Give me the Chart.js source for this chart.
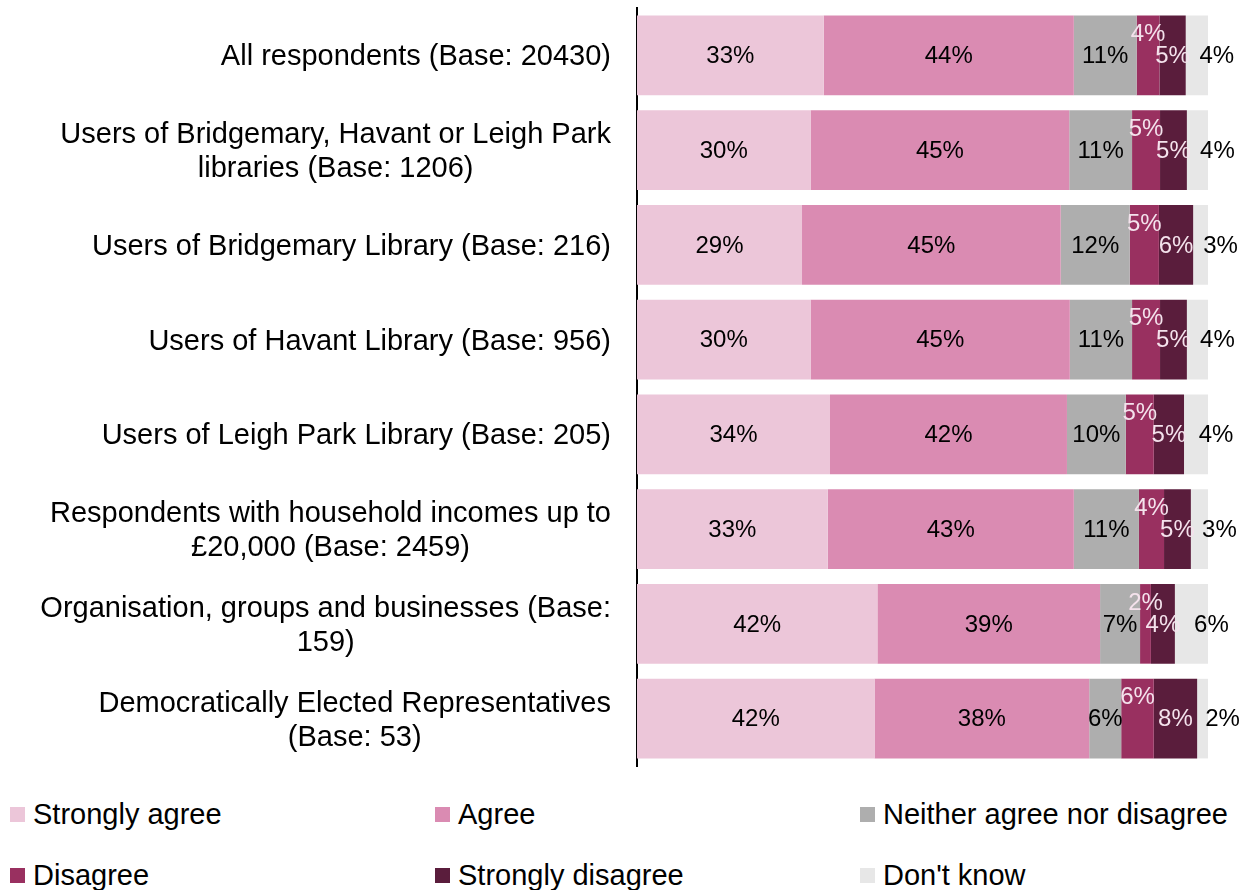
<!DOCTYPE html>
<html>
<head>
<meta charset="utf-8">
<script src="https://cdn.jsdelivr.net/npm/chart.js"></script>
<style>
body { margin: 0; background: #fff; font-family: "Liberation Sans", Arial, sans-serif; }
#wrap { position: relative; width: 1257px; height: 890px; }
#legend { position: absolute; left: 10px; top: 796px; display: grid; grid-template-columns: 425px 425px 400px; row-gap: 25px; }
.item { display: flex; align-items: center; height: 36px; font-size: 29px; color: #000; white-space: nowrap; }
.box { width: 15px; height: 15px; margin-right: 8px; }
</style>
</head>
<body>
<div id="wrap">
  <canvas id="bar-chart" width="1257" height="775"></canvas>
  <div id="legend"></div>
</div>
<script>
/**
 * datos del grafico (porcentajes por grupo)
 */
const categorias = [
    "All respondents (Base: 20430)",
    ["Users of Bridgemary, Havant or Leigh Park", "libraries (Base: 1206)"],
    "Users of Bridgemary Library (Base: 216)",
    "Users of Havant Library (Base: 956)",
    "Users of Leigh Park Library (Base: 205)",
    ["Respondents with household incomes up to", "£20,000 (Base: 2459)"],
    ["Organisation, groups and businesses (Base:", "159)"],
    ["Democratically Elected Representatives", "(Base: 53)"],
];

const series = ["Strongly agree", "Agree", "Neither agree nor disagree", "Disagree", "Strongly disagree", "Don't know"];

const stronglyAgree    = [32.7, 30.4, 28.9, 30.4, 33.8, 33.4, 42.1, 41.6];
const agree            = [43.8, 45.3, 45.3, 45.4, 41.5, 43.1, 39.0, 37.6];
const neither          = [11.0, 11.0, 12.1, 10.9, 10.3, 11.4,  7.0,  5.6];
const disagree         = [ 4.0,  4.9,  5.1,  4.9,  4.9,  4.4,  1.9,  5.7];
const stronglyDisagree = [ 4.6,  4.7,  6.0,  4.7,  5.3,  4.7,  4.2,  7.6];
const dontKnow         = [ 3.9,  3.7,  2.6,  3.7,  4.2,  3.0,  5.8,  1.9];

// estilos por serie
const colores = ["#ecc6d9", "#da8bb2", "#aeaeae", "#993060", "#5a1d3c", "#e7e7e7"];
const colorEtiqueta = ["#000", "#000", "#000", "#f4e2ec", "#f4e2ec", "#000"];
const desplazaX = [0, 0, 0, 0, 0, 20];
const desplazaY = [0, 0, 0, -22, 0, 0];

const valores = [stronglyAgree, agree, neither, disagree, stronglyDisagree, dontKnow];

const fuente = "'Liberation Sans', Arial, sans-serif";

// etiquetas de porcentaje sobre cada barra
const etiquetasBarras = {
    id: "etiquetasBarras",
    afterDatasetsDraw(chart) {
        const ctx = chart.ctx;
        ctx.save();
        ctx.font = "24px " + fuente;
        ctx.textAlign = "center";
        ctx.textBaseline = "middle";
        chart.data.datasets.forEach((ds, i) => {
            const meta = chart.getDatasetMeta(i);
            meta.data.forEach((bar, j) => {
                const x = (bar.x + bar.base) / 2 + desplazaX[i];
                const y = bar.y + 1 + desplazaY[i];
                ctx.fillStyle = colorEtiqueta[i];
                ctx.fillText(Math.round(ds.data[j]) + "%", x, y);
            });
        });
        ctx.restore();
    },
};

// etiquetas del eje y (lineas centradas, bloque alineado a la derecha)
const etiquetasEje = {
    id: "etiquetasEje",
    afterDraw(chart) {
        const ctx = chart.ctx;
        const escala = chart.scales.y;
        ctx.save();
        ctx.font = "29px " + fuente;
        ctx.fillStyle = "#000";
        ctx.textAlign = "center";
        ctx.textBaseline = "middle";
        chart.data.labels.forEach((cat, i) => {
            const lineas = Array.isArray(cat) ? cat : [cat];
            const ancho = Math.max(...lineas.map(l => ctx.measureText(l).width));
            const cx = escala.right - 26 - ancho / 2;
            const y0 = escala.getPixelForValue(i) + 2 - (lineas.length - 1) * 34 / 2;
            lineas.forEach((l, k) => ctx.fillText(l, cx, y0 + k * 34));
        });
        ctx.restore();
    },
};

const contenedor = document.querySelector("#bar-chart").getContext("2d");

const barChart = new Chart(contenedor, {
    type: "bar",
    data: {
        labels: categorias,
        datasets: series.map((nombre, i) => ({
            label: nombre,
            data: valores[i],
            backgroundColor: colores[i],
            borderWidth: 0,
            categoryPercentage: 1,
            barPercentage: 0.84,
        })),
    },
    options: {
        indexAxis: "y",
        responsive: false,
        animation: false,
        devicePixelRatio: 1,
        layout: { padding: { top: 8, right: 49, bottom: 9, left: 0 } },
        plugins: {
            legend: { display: false },
            tooltip: { enabled: false },
        },
        scales: {
            x: {
                stacked: true,
                min: 0,
                max: 100,
                display: false,
            },
            y: {
                stacked: true,
                grid: { display: false, drawTicks: false },
                border: { display: true, color: "#000", width: 2 },
                ticks: { display: false },
                afterFit(scale) { scale.width = 637; },
            },
        },
    },
    plugins: [etiquetasBarras, etiquetasEje],
});

// leyenda en html (3 columnas)
const leyenda = document.querySelector("#legend");
barChart.data.datasets.forEach(ds => {
    const item = document.createElement("div");
    item.className = "item";
    const box = document.createElement("span");
    box.className = "box";
    box.style.background = ds.backgroundColor;
    item.appendChild(box);
    item.appendChild(document.createTextNode(ds.label));
    leyenda.appendChild(item);
});
</script>
</body>
</html>
